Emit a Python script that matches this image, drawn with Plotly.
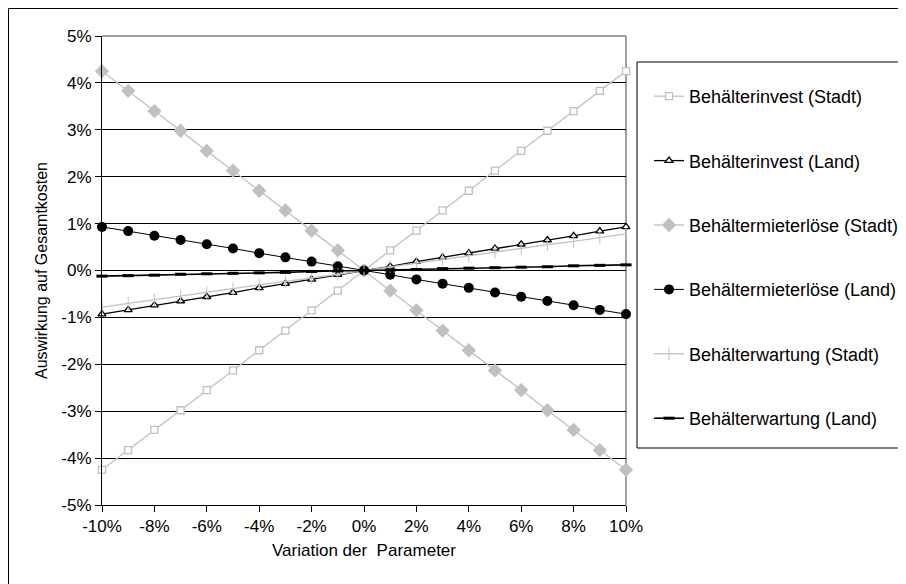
import plotly.graph_objects as go

# ---- data ----
variation = [-10, -9, -8, -7, -6, -5, -4, -3, -2, -1, 0, 1, 2, 3, 4, 5, 6, 7, 8, 9, 10]

invest_stadt = [-4.25, -3.83, -3.40, -2.98, -2.55, -2.13, -1.70, -1.28, -0.85, -0.43, 0.00,
                0.43, 0.85, 1.28, 1.70, 2.13, 2.55, 2.98, 3.40, 3.83, 4.25]
invest_land = [-0.93, -0.84, -0.74, -0.65, -0.56, -0.47, -0.37, -0.28, -0.19, -0.09, 0.00,
               0.09, 0.19, 0.28, 0.37, 0.47, 0.56, 0.65, 0.74, 0.84, 0.93]
miete_stadt = [4.25, 3.83, 3.40, 2.98, 2.55, 2.13, 1.70, 1.28, 0.85, 0.43, 0.00,
               -0.43, -0.85, -1.28, -1.70, -2.13, -2.55, -2.98, -3.40, -3.83, -4.25]
miete_land = [0.93, 0.84, 0.74, 0.65, 0.56, 0.47, 0.37, 0.28, 0.19, 0.09, 0.00,
              -0.09, -0.19, -0.28, -0.37, -0.47, -0.56, -0.65, -0.74, -0.84, -0.93]
wartung_stadt = [-0.78, -0.70, -0.62, -0.55, -0.47, -0.39, -0.31, -0.23, -0.16, -0.08, 0.00,
                 0.08, 0.16, 0.23, 0.31, 0.39, 0.47, 0.55, 0.62, 0.70, 0.78]
wartung_land = [-0.12, -0.11, -0.10, -0.08, -0.07, -0.06, -0.05, -0.04, -0.02, -0.01, 0.00,
                0.01, 0.02, 0.04, 0.05, 0.06, 0.07, 0.08, 0.10, 0.11, 0.12]

names = ["Behälterinvest (Stadt)", "Behälterinvest (Land)", "Behältermieterlöse (Stadt)",
         "Behältermieterlöse (Land)", "Behälterwartung (Stadt)", "Behälterwartung (Land)"]

x_ticks = [-10, -8, -6, -4, -2, 0, 2, 4, 6, 8, 10]
y_ticks = [-5, -4, -3, -2, -1, 0, 1, 2, 3, 4, 5]

GRAY = "#c0c0c0"
FONT = "Liberation Sans, Arial, sans-serif"

series = [
    (invest_stadt, dict(color=GRAY, width=1.3),
     dict(symbol="square", size=7, color="white", line=dict(color=GRAY, width=1.3))),
    (invest_land, dict(color="black", width=1.3),
     dict(symbol="triangle-up", size=7, color="white", line=dict(color="black", width=1.3))),
    (miete_stadt, dict(color=GRAY, width=1.3),
     dict(symbol="diamond", size=11, color=GRAY, line=dict(width=0))),
    (miete_land, dict(color="black", width=1),
     dict(symbol="circle", size=10, color="black", line=dict(width=0))),
    (wartung_stadt, dict(color=GRAY, width=1.3),
     dict(symbol="line-ns", size=9, color=GRAY, line=dict(color=GRAY, width=1))),
    (wartung_land, dict(color="black", width=1.6),
     dict(symbol="line-ew", size=8, color="black", line=dict(color="black", width=3))),
]

fig = go.Figure()
for i, (vals, ln, mk) in enumerate(series):
    fig.add_trace(go.Scatter(x=variation, y=vals, mode="lines+markers", name=names[i],
                             line=ln, marker=mk, legendgroup=str(i), cliponaxis=False))

# the page body adds an 8px offset, so figure coordinates are screen minus 8
L, R, T, B = 94, 618, 28, 497
W, H = 898, 576
pw, ph = R - L, B - T


def px(xp):
    return (xp - L) / pw


def py(yp):
    return (B - yp) / ph


fig.update_layout(
    width=W, height=H,
    margin=dict(l=L, r=W - R, t=T, b=H - B, autoexpand=False, pad=0),
    paper_bgcolor="white", plot_bgcolor="white",
    font=dict(family=FONT, size=17, color="black"),
    showlegend=True,
    legend=dict(x=px(641), y=py(70), xanchor="left", yanchor="top",
                bgcolor="rgba(0,0,0,0)", borderwidth=0,
                font=dict(family=FONT, size=18, color="black"),
                tracegroupgap=38, traceorder="grouped", itemwidth=30),
    xaxis=dict(range=[-10, 10], tickvals=x_ticks, ticktext=[f"{v}%" for v in x_ticks],
               showgrid=False, zeroline=False, showline=True, linecolor="black", linewidth=1,
               ticks="outside", ticklen=6, tickcolor="black", tickfont=dict(size=17),
               title=dict(text="Variation der\u00a0 Parameter", font=dict(size=17), standoff=8)),
    yaxis=dict(range=[-5, 5], tickvals=y_ticks, ticktext=[f"{v}%" for v in y_ticks],
               showgrid=True, gridcolor="black", gridwidth=1, zeroline=False,
               showline=True, linecolor="black", linewidth=1,
               ticks="outside", ticklen=6, tickcolor="black", tickfont=dict(size=17),
               title=dict(text="Auswirkung auf Gesamtkosten", font=dict(size=16), standoff=9)),
    shapes=[
        # plot-area border (top and right gray)
        dict(type="line", xref="paper", yref="paper", x0=0, x1=1, y0=1, y1=1,
             line=dict(color="#808080", width=1.5), layer="below"),
        dict(type="line", xref="paper", yref="paper", x0=1, x1=1, y0=0, y1=1,
             line=dict(color="#808080", width=1.5), layer="below"),
        # legend box (continues past the right edge, as in the reference)
        dict(type="rect", xref="paper", yref="paper", x0=px(629), x1=px(930),
             y0=py(440), y1=py(54), line=dict(color="black", width=1), fillcolor="rgba(0,0,0,0)"),
        # outer chart border (right and bottom edges lie outside the picture)
        dict(type="rect", xref="paper", yref="paper", x0=px(0.5), x1=px(930),
             y0=py(600), y1=py(0.5), line=dict(color="black", width=1), fillcolor="rgba(0,0,0,0)"),
    ],
)

fig.write_html("out.html")
